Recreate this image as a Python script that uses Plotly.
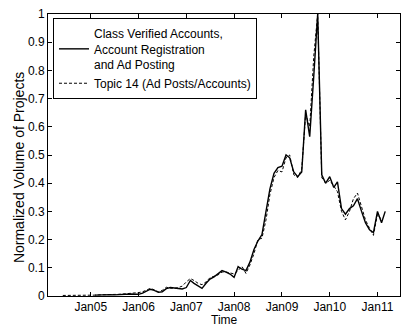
import pandas as pd
import plotly.graph_objects as go

# Solid series: Class Verified Accounts, Account Registration and Ad Posting (monthly, from Feb 2005)
solid_2005 = [0.003, 0.004, 0.003, 0.004, 0.005, 0.004, 0.005, 0.006, 0.005, 0.007, 0.006]
solid_2006 = [0.006, 0.010, 0.018, 0.024, 0.020, 0.013, 0.015, 0.026, 0.030, 0.028, 0.027, 0.025]
solid_2007 = [0.030, 0.055, 0.045, 0.035, 0.027, 0.045, 0.060, 0.068, 0.080, 0.090, 0.085, 0.078]
solid_2008 = [0.066, 0.104, 0.095, 0.090, 0.120, 0.165, 0.195, 0.218, 0.300, 0.380, 0.435, 0.455]
solid_2009 = [0.460, 0.500, 0.490, 0.440, 0.423, 0.440, 0.660, 0.565, 0.780, 1.000, 0.430, 0.400]
solid_2010 = [0.423, 0.385, 0.405, 0.310, 0.290, 0.310, 0.320, 0.345, 0.300, 0.260, 0.235, 0.225]
solid_2011 = [0.300, 0.260, 0.300]

# Dashed series: Topic 14 (Ad Posts/Accounts) (monthly, from Jun 2004)
dash_2004 = [0.002, 0.002, 0.002, 0.001, 0.001, 0.001, 0.002]
dash_2005 = [0.003, 0.003, 0.004, 0.004, 0.005, 0.004, 0.006, 0.006, 0.007, 0.008, 0.009, 0.010]
dash_2006 = [0.012, 0.015, 0.020, 0.027, 0.022, 0.015, 0.020, 0.031, 0.028, 0.027, 0.030, 0.035]
dash_2007 = [0.050, 0.062, 0.055, 0.045, 0.040, 0.050, 0.065, 0.070, 0.075, 0.085, 0.085, 0.082]
dash_2008 = [0.078, 0.090, 0.105, 0.080, 0.110, 0.150, 0.200, 0.205, 0.270, 0.360, 0.420, 0.445]
dash_2009 = [0.440, 0.490, 0.500, 0.430, 0.420, 0.450, 0.645, 0.600, 0.850, 1.000, 0.420, 0.400]
dash_2010 = [0.410, 0.390, 0.370, 0.300, 0.270, 0.300, 0.345, 0.365, 0.320, 0.270, 0.240, 0.215]
dash_2011 = [0.290, 0.270]

solid_vals = solid_2005 + solid_2006 + solid_2007 + solid_2008 + solid_2009 + solid_2010 + solid_2011
dash_vals = dash_2004 + dash_2005 + dash_2006 + dash_2007 + dash_2008 + dash_2009 + dash_2010 + dash_2011
solid_dates = pd.date_range("2005-02-01", periods=len(solid_vals), freq="MS")
dash_dates = pd.date_range("2004-06-01", periods=len(dash_vals), freq="MS")

tick_dates = ["2005-01-01", "2006-01-01", "2007-01-01", "2008-01-01",
              "2009-01-01", "2010-01-01", "2011-01-01"]
tick_labels = ["Jan05", "Jan06", "Jan07", "Jan08", "Jan09", "Jan10", "Jan11"]
y_ticks = [0, 0.1, 0.2, 0.3, 0.4, 0.5, 0.6, 0.7, 0.8, 0.9, 1]
y_labels = ["0", "0.1", "0.2", "0.3", "0.4", "0.5", "0.6", "0.7", "0.8", "0.9", "1"]

FONT = "Liberation Sans, Arial, Helvetica, sans-serif"

fig = go.Figure()
fig.add_trace(go.Scatter(
    x=solid_dates, y=solid_vals, mode="lines",
    name="Class Verified Accounts,<br>Account Registration<br>and Ad Posting",
    line=dict(color="black", width=1.4),
))
fig.add_trace(go.Scatter(
    x=dash_dates, y=dash_vals, mode="lines",
    name="Topic 14 (Ad Posts/Accounts)",
    line=dict(color="black", width=1, dash="3px,2px"),
))

fig.update_layout(
    width=401, height=324,
    margin=dict(l=48, r=1, t=14, b=28),
    paper_bgcolor="white", plot_bgcolor="white",
    font=dict(family=FONT, size=12, color="black"),
    showlegend=True,
    legend=dict(
        x=0.0142, y=0.986, xanchor="left", yanchor="top",
        bgcolor="white", bordercolor="black", borderwidth=1,
        font=dict(family=FONT, size=12, color="black"),
        tracegroupgap=0,
    ),
    xaxis=dict(
        range=["2004-02-09", "2011-06-22"],
        tickmode="array", tickvals=tick_dates, ticktext=tick_labels,
        ticks="inside", ticklen=4, tickcolor="black",
        showline=True, linecolor="black", linewidth=1, mirror="ticks",
        showgrid=False, zeroline=False,
        tickfont=dict(family=FONT, size=12, color="black"),
    ),
    yaxis=dict(
        range=[0, 1],
        tickmode="array", tickvals=y_ticks, ticktext=y_labels,
        ticks="inside", ticklen=4, tickcolor="black",
        showline=True, linecolor="black", linewidth=1, mirror="ticks",
        showgrid=False, zeroline=False,
        tickfont=dict(family=FONT, size=12, color="black"),
    ),
    annotations=[
        dict(text="Normalized Volume of Projects", textangle=-90,
             xref="paper", yref="paper", x=-0.0824, y=0.457,
             xanchor="center", yanchor="middle", showarrow=False,
             font=dict(family=FONT, size=14, color="black")),
        dict(text="Time", xref="paper", yref="paper", x=0.5, y=-0.086,
             xanchor="center", yanchor="middle", showarrow=False,
             font=dict(family=FONT, size=12, color="black")),
    ],
)

fig.write_html("out.html")
